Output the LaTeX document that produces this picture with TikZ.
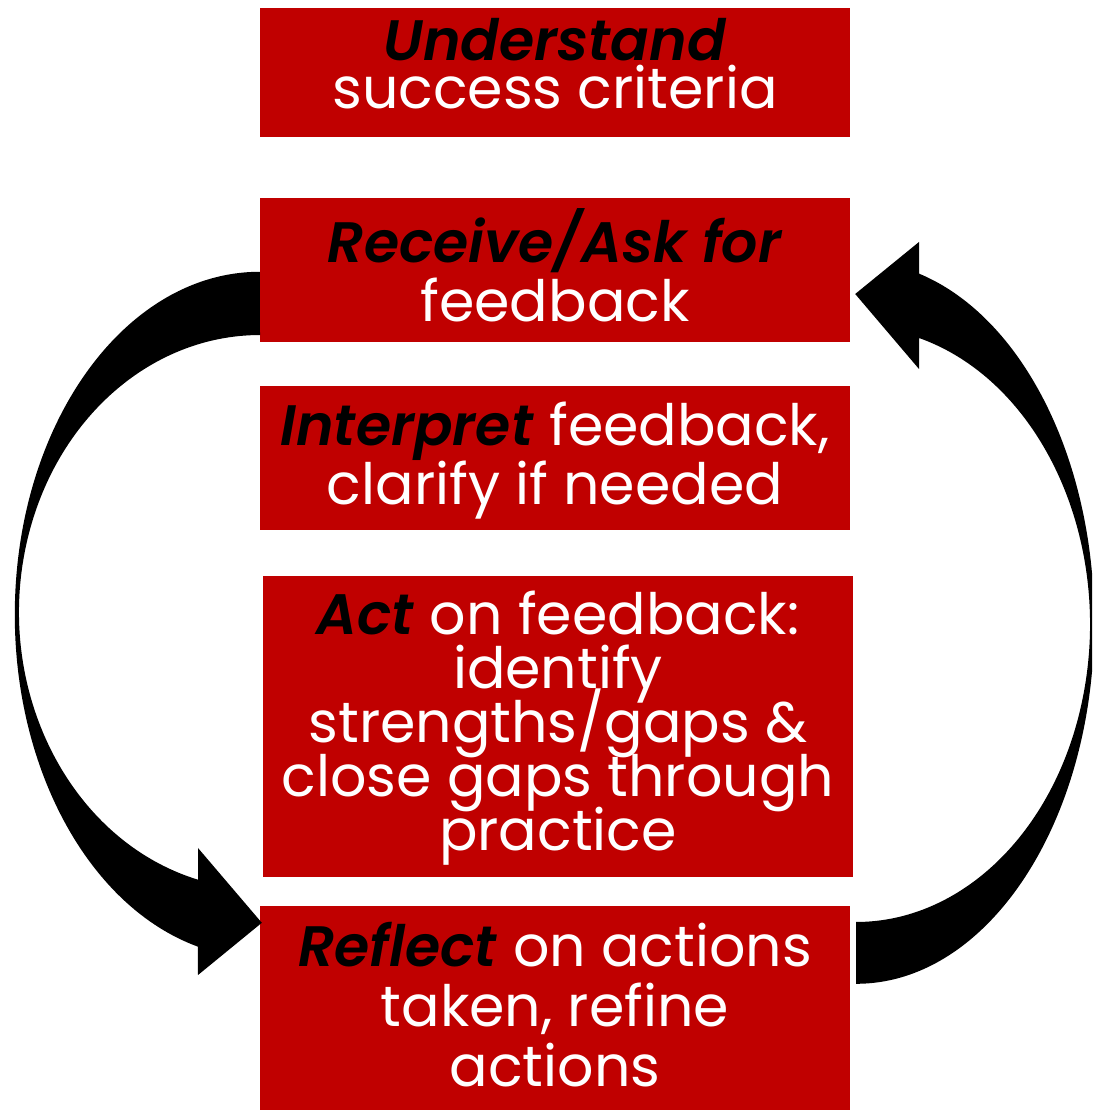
\documentclass[tikz,border=0pt]{standalone}
\usepackage{fontspec}
\setmainfont{Poppins}[BoldItalicFont={Poppins SemiBold Italic}]
\definecolor{boxred}{HTML}{C00000}
\newcommand{\emw}[1]{\textcolor{black}{\textbf{\textit{#1}}}}
\newcommand{\lst}{\rule[-14pt]{0pt}{54pt}}
\tikzset{
  stepbox/.style={fill=boxred, inner sep=0pt, minimum width=590pt, anchor=center},
  steptext/.style={text=white, align=center, inner sep=0pt, anchor=center},
  arrowfill/.style={fill=black},
}
\begin{document}
\setlength{\lineskiplimit}{-100pt}
\begin{tikzpicture}[x=1pt,y=1pt]
\useasboundingbox (0,0) rectangle (1092,1110);
\clip (0,0) rectangle (1092,1110);
\node[stepbox, minimum height=129pt] (n1) at (555,1037.5) {};
\node[stepbox, minimum height=144pt] (n2) at (555,840) {};
\node[stepbox, minimum height=144pt] (n3) at (555,652) {};
\node[stepbox, minimum height=301pt] (n4) at (558,383.5) {};
\node[stepbox, minimum height=204pt] (n5) at (555,102) {};
\node[steptext, font=\fontsize{57}{48}\selectfont] (t1) at ([yshift=2.2pt]n1.center) {\lst\emw{Understand}\\\lst success criteria};
\node[steptext, font=\fontsize{57}{59}\selectfont] (t2) at ([yshift=-2.5pt]n2.center) {\lst\emw{Receive/Ask for}\\\lst feedback};
\node[steptext, font=\fontsize{57}{59}\selectfont] (t3) at ([yshift=-2.8pt]n3.center) {\lst\emw{Interpret} feedback,\\\lst clarify if needed};
\node[steptext, font=\fontsize{57}{54}\selectfont] (t4) at ([yshift=-1.2pt]n4.center) {\lst\emw{Act} on feedback:\\\lst identify\\\lst strengths/gaps \&\\\lst close gaps through\\\lst practice};
\node[steptext, font=\fontsize{57}{60}\selectfont] (t5) at ([yshift=-3pt]n5.center) {\lst\emw{Reflect} on actions\\\lst taken, refine\\\lst actions};
% left curved arrow: n2 -> n5
\fill[arrowfill] ([yshift=-74pt]n2.north west)
  arc[start angle=90, end angle=255.34, x radius=245pt, y radius=343pt]
  -- (198,135) -- ([xshift=2pt,yshift=-17pt]n5.north west) -- (198,262) -- (198,230.3)
  arc[start angle=255.09, end angle=90, x radius=241pt, y radius=277pt]
  -- cycle;
% right curved arrow: n5 -> n2
\fill[arrowfill] ([xshift=6pt,yshift=-78pt]n5.north east)
  arc[start angle=270, end angle=434.65, x radius=238pt, y radius=361.5pt]
  -- (919,868) -- ([xshift=5pt,yshift=-24pt]n2.east) -- (919,741) -- (919,772)
  arc[start angle=434.38, end angle=270, x radius=234pt, y radius=297.5pt]
  -- cycle;
\end{tikzpicture}
\end{document}
